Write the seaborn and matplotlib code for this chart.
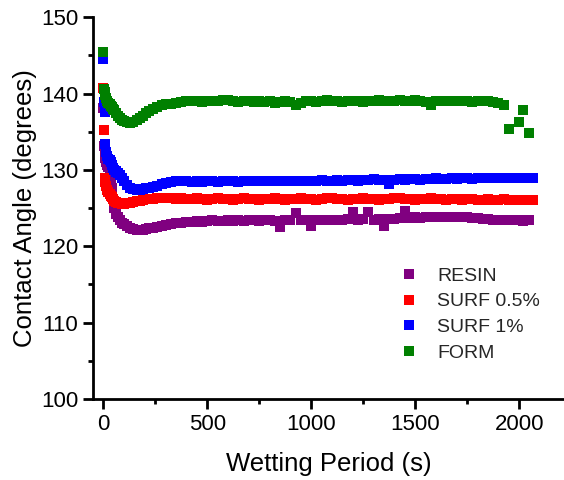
import numpy as np
import pandas as pd
import matplotlib
matplotlib.use("Agg")
import matplotlib.pyplot as plt
import seaborn as sns
from matplotlib.ticker import MultipleLocator

nan = np.nan

SERIES = ["RESIN", "SURF 0.5%", "SURF 1%", "FORM"]
COLORS = ["#800080", "#FF0000", "#0000FF", "#008000"]

TIME = [0, 3, 6, 10, 15, 20, 25, 30, 35, 40, 45, 50, 60, 70, 80, 90, 100,
        115, 130, 145, 160, 175, 190, 205, 220, 240, 260, 280, 300, 325, 350,
        375, 400,
        425, 450, 475, 500, 525, 550, 575, 600, 625, 650,
        675, 700, 725, 750, 775, 800, 825, 850, 875, 900,
        925, 950, 975, 1000, 1025, 1050, 1075, 1100, 1125, 1150,
        1175, 1200, 1225, 1250, 1275, 1300, 1325, 1350, 1375, 1400,
        1425, 1450, 1475, 1500, 1525, 1550, 1575, 1600, 1625, 1650,
        1675, 1700, 1725, 1750, 1775, 1800, 1825, 1850, 1875, 1900,
        1925, 1950, 1975,
        2000, 2020, 2045, 2065]

RESIN = [138.1, 133.1, 132.4, 131.6, 131.1, 130.7, 130.4, 130.1, 129.0, 127.6,
         126.2, 125.0, 124.2, 123.8, 123.4, 123.1, 122.9, 122.6, 122.4, 122.3,
         122.2, 122.2, 122.2, 122.3, 122.4, 122.4, 122.5, 122.7, 122.8, 122.9,
         123.0, 123.0, 123.2,
         123.2, 123.3, 123.2, 123.3, 123.4, 123.3, 123.3, 123.4, 123.3, 123.4,
         123.3, 123.4, 123.4, 123.3, 123.4, 123.4, 123.3, 122.5, 123.4, 123.5,
         124.4, 123.4, 123.5, 122.6, 123.5, 123.4, 123.5, 123.5, 123.4, 123.5,
         123.6, 124.5, 123.5, 123.6, 124.5, 123.5, 123.6, 122.7, 123.6, 123.6,
         123.7, 124.6, 123.7, 123.8, 123.7, 123.8, 123.9, 123.8, 123.9, 123.9,
         123.8, 123.9, 123.8, 123.8, 123.7, 123.7, 123.6, 123.6, 123.5, 123.5,
         123.5, 123.4, 123.4,
         123.4, 123.3, 123.4, nan]

SURF05 = [140.7, 135.3, 129.0, 128.4, 127.9, 127.4, 127.1, 126.8, 126.6, 126.4,
          126.2, 126.0, 125.8, 125.7, 125.7, 125.6, 125.6, 125.7, 125.7, 125.8,
          125.9, 126.0, 126.1, 126.2, 126.2, 126.2, 126.3, 126.3, 126.3, 126.3,
          126.2, 126.3, 126.2,
          126.2, 126.3, 126.2, 126.1, 126.2, 126.3, 126.2, 126.2, 126.1, 126.2,
          126.3, 126.2, 126.2, 126.1, 126.2, 126.2, 126.3, 126.2, 126.1, 126.2,
          126.2, 126.3, 126.2, 126.2, 126.1, 126.2, 126.3, 126.3, 126.2, 126.2,
          126.1, 126.2, 126.2, 126.3, 126.2, 126.2, 126.1, 126.2, 126.2, 126.3,
          126.3, 126.2, 126.2, 126.1, 126.2, 126.2, 126.3, 126.2, 126.2, 126.1,
          126.2, 126.2, 126.1, 126.2, 126.2, 126.1, 126.1, 126.2, 126.1, 126.1,
          126.2, 126.1, 126.1,
          126.1, 126.1, 126.1, 126.1]

SURF1 = [144.6, 138.9, 137.6, 133.4, 132.3, 131.8, 131.5, 131.3, 131.0, 130.6,
         130.3, 130.0, 129.8, 129.6, 129.4, 129.0, 128.5, 128.0, 127.7, 127.5,
         127.4, 127.4, 127.5, 127.6, 127.7, 127.8, 127.9, 128.1, 128.3, 128.4,
         128.5, 128.5, 128.5,
         128.4, 128.5, 128.4, 128.5, 128.5, 128.4, 128.5, 128.5, 128.5, 128.4,
         128.5, 128.5, 128.6, 128.5, 128.5, 128.6, 128.5, 128.6, 128.5, 128.6,
         128.6, 128.5, 128.6, 128.6, 128.6, 128.7, 128.6, 128.6, 128.7, 128.6,
         128.7, 128.7, 128.6, 128.7, 128.7, 128.8, 128.7, 128.7, 128.1, 128.7,
         128.8, 128.7, 128.8, 128.8, 128.7, 128.8, 128.8, 128.9, 128.8, 128.8,
         128.9, 128.8, 128.9, 128.9, 128.8, 128.9, 129.0, 128.9, 128.9, 129.0,
         129.0, 128.9, 129.0,
         129.0, 129.0, 129.0, 129.0]

FORM = [145.4, 140.6, 140.2, 139.8, 139.4, 139.0, 138.8, 138.6, 138.4, 138.2,
        138.0, 137.8, 137.4, 137.1, 136.8, 136.6, 136.4, 136.3, 136.2, 136.3,
        136.5, 136.8, 137.1, 137.4, 137.7, 138.0, 138.3, 138.5, 138.6, 138.7,
        138.8, 138.9, 139.0,
        139.0, 139.0, 138.9, 139.0, 139.1, 139.0, 139.2, 139.2, 139.0, 138.9,
        139.0, 139.0, 138.9, 139.0, 138.9, 139.0, 138.8, 138.9, 139.0, 138.9,
        138.5, 138.8, 139.0, 139.0, 138.9, 139.1, 139.2, 139.0, 139.0, 138.9,
        139.0, 139.1, 139.0, 138.9, 139.0, 139.1, 139.2, 139.1, 139.0, 139.1,
        139.2, 139.0, 139.1, 139.2, 139.0, 138.9, 138.5, 139.0, 139.1, 139.0,
        139.0, 139.1, 139.0, 139.0, 138.9, 139.0, 139.1, 139.0, 138.9, 138.8,
        138.5, 135.4, nan,
        136.3, 137.9, 134.9, nan]

frames = []
for name, vals in zip(SERIES, [RESIN, SURF05, SURF1, FORM]):
    assert len(vals) == len(TIME), (name, len(vals), len(TIME))
    frames.append(pd.DataFrame({"t": TIME, "angle": vals, "series": name}))
df = pd.concat(frames, ignore_index=True).dropna()

sns.set_style("ticks")
plt.rcParams["font.family"] = ["Liberation Sans", "DejaVu Sans"]

W, H = 564, 480
fig = plt.figure(figsize=(W / 100, H / 100), dpi=100)
L, R, T, B = 93.3, 564, 17.3, 399
ax = fig.add_axes([L / W, 1 - B / H, (R - L) / W, (B - T) / H])

sns.scatterplot(data=df, x="t", y="angle", hue="series", hue_order=SERIES,
                palette=COLORS, marker="s", s=52, linewidth=0, ax=ax,
                legend=True)

ax.set_xlim(-48, 2215)
ax.set_ylim(100, 150)
ax.xaxis.set_major_locator(MultipleLocator(500))
ax.xaxis.set_minor_locator(MultipleLocator(250))
ax.yaxis.set_major_locator(MultipleLocator(10))
ax.yaxis.set_minor_locator(MultipleLocator(5))
for s in ["top", "right"]:
    ax.spines[s].set_visible(False)
for s in ["left", "bottom"]:
    ax.spines[s].set_linewidth(2)
    ax.spines[s].set_color("black")
ax.tick_params(which="major", direction="out", length=7, width=2,
               labelsize=16, colors="black", pad=4)
ax.tick_params(which="minor", direction="out", length=3.5, width=2,
               colors="black")
ax.set_xlabel("Wetting Period (s)", fontsize=18.5, color="black", labelpad=12)
ax.set_ylabel("Contact Angle (degrees)", fontsize=18.5, color="black",
              labelpad=3)

sns.move_legend(ax, "upper left", bbox_to_anchor=(399 / W, 1 - 267 / H),
                bbox_transform=fig.transFigure, frameon=False, title=None,
                fontsize=14, handlelength=1, handletextpad=0.97,
                labelspacing=0.42, borderpad=0, borderaxespad=0)

fig.savefig("out.png", dpi=100)
